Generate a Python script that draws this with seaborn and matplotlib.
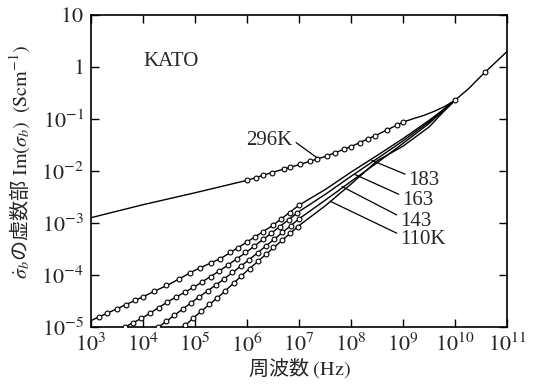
import numpy as np
import pandas as pd
import matplotlib
matplotlib.use("Agg")
import matplotlib.pyplot as plt
import seaborn as sns
from matplotlib.ticker import FixedLocator, NullLocator

# ---------------- data ----------------
# smooth (theory) curves
f_296 = [1e3, 1e4, 1e5, 1e6, 3.2e6, 1e7, 3.2e7, 1e8, 3.2e8, 1e9, 1.6e9, 2.5e9, 4e9, 6.3e9,
         1e10, 1.8e10, 3.2e10, 1e11]
s_296 = [1.26e-3, 2.24e-3, 3.8e-3, 6.6e-3, 9.5e-3, 1.32e-2, 1.9e-2, 2.95e-2, 5.0e-2, 8.7e-2,
         0.102, 0.117, 0.141, 0.174, 0.23, 0.38, 0.68, 2.0]

f_183 = [1e3, 3.2e3, 1e4, 3.2e4, 1e5, 3.2e5, 1e6, 3.2e6, 1e7, 3.2e7, 1e8, 3.2e8, 1e9, 3.2e9,
         5.6e9, 1e10]
s_183 = [1.32e-5, 2.24e-5, 3.8e-5, 6.6e-5, 1.23e-4, 2.1e-4, 4.3e-4, 9.1e-4, 2.2e-3, 4.4e-3,
         9.5e-3, 2.0e-2, 4.2e-2, 9.5e-2, 0.145, 0.23]

f_163 = [3.2e3, 1e4, 3.2e4, 1e5, 3.2e5, 1e6, 3.2e6, 1e7, 3.2e7, 1e8, 3.2e8, 1e9, 3.2e9,
         5.6e9, 1e10]
s_163 = [8.3e-6, 1.51e-5, 3.16e-5, 6.0e-5, 1.26e-4, 2.8e-4, 6.8e-4, 1.66e-3, 3.55e-3, 7.9e-3,
         1.74e-2, 3.8e-2, 8.9e-2, 0.141, 0.23]

f_143 = [1e4, 3.2e4, 1e5, 3.2e5, 1e6, 3.2e6, 1e7, 3.2e7, 1e8, 3.2e8, 1e9, 3.2e9, 5.6e9, 1e10]
s_143 = [5.9e-6, 1.41e-5, 3.3e-5, 7.6e-5, 1.82e-4, 4.7e-4, 1.2e-3, 2.75e-3, 6.3e-3, 1.45e-2,
         3.4e-2, 8.3e-2, 0.138, 0.23]

f_110 = [3.2e4, 1e5, 3.2e5, 1e6, 3.2e6, 1e7, 3.2e7, 1e8, 3.2e8, 1e9, 3.2e9, 5.6e9, 1e10]
s_110 = [5.6e-6, 1.58e-5, 4.2e-5, 1.2e-4, 3.3e-4, 8.9e-4, 2.14e-3, 5.6e-3, 1.58e-2, 3.0e-2,
         7.1e-2, 0.129, 0.23]

# measured points (open circles)
mf_296 = [9.8e5, 1.5e6, 2.0e6, 3.0e6, 5.2e6, 6.8e6, 1.05e7, 1.6e7, 2.2e7, 3.4e7, 4.9e7, 7.4e7,
          1.0e8, 1.5e8, 2.1e8, 2.9e8, 4.9e8, 7.6e8, 1.0e9, 1.0e10, 3.8e10]
ms_296 = [6.6e-3, 7.4e-3, 8.3e-3, 9.3e-3, 1.1e-2, 1.18e-2, 1.35e-2, 1.55e-2, 1.7e-2, 1.95e-2,
          2.25e-2, 2.6e-2, 2.95e-2, 3.5e-2, 4.2e-2, 4.8e-2, 6.2e-2, 7.6e-2, 8.7e-2, 0.23, 0.79]

mf_183 = [1.4e3, 2.0e3, 3.2e3, 4.8e3, 7.1e3, 1.0e4, 1.6e4, 2.8e4, 5.0e4, 7.9e4, 1.26e5, 2.0e5,
          3.0e5, 4.7e5, 6.8e5, 1.0e6, 1.4e6, 2.0e6, 3.2e6, 4.5e6, 6.6e6, 1.0e7]
ms_183 = [1.55e-5, 1.82e-5, 2.24e-5, 2.69e-5, 3.24e-5, 3.8e-5, 4.8e-5, 6.3e-5, 8.5e-5, 1.1e-4,
          1.38e-4, 1.7e-4, 2.04e-4, 2.7e-4, 3.3e-4, 4.3e-4, 5.4e-4, 6.8e-4, 9.1e-4, 1.17e-3,
          1.58e-3, 2.2e-3]

mf_163 = [4.5e3, 6.3e3, 9.3e3, 1.35e4, 2.0e4, 2.95e4, 4.3e4, 6.3e4, 9.3e4, 1.35e5, 2.0e5,
          2.95e5, 4.3e5, 6.3e5, 9.3e5, 1.35e6, 2.0e6, 2.95e6, 4.3e6, 6.3e6, 9.3e6]
ms_163 = [1.0e-5, 1.2e-5, 1.46e-5, 1.82e-5, 2.34e-5, 3.0e-5, 3.7e-5, 4.7e-5, 5.75e-5, 7.2e-5,
          9.3e-5, 1.2e-4, 1.55e-4, 2.04e-4, 2.7e-4, 3.55e-4, 4.8e-4, 6.5e-4, 8.5e-4, 1.15e-3,
          1.58e-3]

mf_143 = [1.95e4, 2.8e4, 4.0e4, 5.75e4, 8.3e4, 1.2e5, 1.74e5, 2.5e5, 3.6e5, 5.25e5, 7.6e5,
          1.1e6, 1.6e6, 2.3e6, 3.3e6, 4.8e6, 6.9e6, 1.0e7]
ms_143 = [9.8e-6, 1.29e-5, 1.66e-5, 2.19e-5, 2.88e-5, 3.8e-5, 4.9e-5, 6.5e-5, 8.5e-5, 1.12e-4,
          1.48e-4, 1.95e-4, 2.63e-4, 3.6e-4, 4.9e-4, 6.6e-4, 8.9e-4, 1.2e-3]

mf_110 = [6.5e4, 9.1e4, 1.32e5, 1.86e5, 2.7e5, 3.8e5, 5.5e5, 7.8e5, 1.12e6, 1.6e6, 2.3e6,
          3.2e6, 4.7e6, 6.6e6, 9.5e6]
ms_110 = [1.07e-5, 1.45e-5, 2.0e-5, 2.7e-5, 3.6e-5, 4.9e-5, 6.9e-5, 9.5e-5, 1.32e-4, 1.82e-4,
          2.5e-4, 3.4e-4, 4.7e-4, 6.3e-4, 8.5e-4]

x_ticks = [1e3, 1e4, 1e5, 1e6, 1e7, 1e8, 1e9, 1e10, 1e11]
x_ticklabels = ["$10^{3}$", "$10^{4}$", "$10^{5}$", "$10^{6}$", "$10^{7}$", "$10^{8}$",
                "$10^{9}$", "$10^{10}$", "$10^{11}$"]
y_ticks = [1e-5, 1e-4, 1e-3, 1e-2, 1e-1, 1, 10]
y_ticklabels = ["$10^{-5}$", "$10^{-4}$", "$10^{-3}$", "$10^{-2}$", "$10^{-1}$", "$1$", "$10$"]

# ---------------- style ----------------
sns.set_style("ticks")
plt.rcParams["font.family"] = ["Liberation Serif", "Noto Sans CJK JP", "DejaVu Sans"]
plt.rcParams["mathtext.fontset"] = "stix"

fig = plt.figure(figsize=(5.35, 3.85), dpi=100)
ax = fig.add_axes([0.170, 0.151, 0.778, 0.810])
ax.set_xscale("log")
ax.set_yscale("log")

lines = [(f_296, s_296), (f_183, s_183), (f_163, s_163), (f_143, s_143), (f_110, s_110)]
for f, s in lines:
    sns.lineplot(x=f, y=s, ax=ax, color="black", linewidth=1.0, sort=True, estimator=None)

marks = [(mf_296, ms_296), (mf_183, ms_183), (mf_163, ms_163), (mf_143, ms_143), (mf_110, ms_110)]
for f, s in marks:
    sns.scatterplot(x=f, y=s, ax=ax, marker="o", s=12, color="white", edgecolor="black",
                    linewidth=0.8, zorder=3)

ax.set_xlim(1e3, 1e11)
ax.set_ylim(1e-5, 10)
ax.xaxis.set_major_locator(FixedLocator(x_ticks))
ax.xaxis.set_minor_locator(NullLocator())
ax.yaxis.set_major_locator(FixedLocator(y_ticks))
ax.yaxis.set_minor_locator(NullLocator())
ax.set_xticklabels(x_ticklabels)
ax.set_yticklabels(y_ticklabels)
ax.tick_params(which="major", direction="in", length=6, width=1.0, top=True, right=True,
               labelsize=16, pad=5, color="black")
for sp in ax.spines.values():
    sp.set_linewidth(1.2)
    sp.set_color("black")

ax.set_xlabel(r"周波数 $(\mathrm{Hz})$", fontsize=14.5, family="Noto Sans CJK JP")
ax.xaxis.set_label_coords(0.50, -0.095)
ax.set_ylabel(r"$\dot{\sigma}_b$の虚数部 $\mathrm{Im}(\sigma_b)$  $(\mathrm{Scm}^{-1})$",
              fontsize=14.5, family="Noto Sans CJK JP")
ax.yaxis.set_label_coords(-0.142, 0.53)

ax.text(1e4, 1.26, "KATO", fontsize=15, ha="left", va="center")

lead = dict(arrowstyle="-", color="black", lw=0.9, shrinkA=0, shrinkB=0)
ax.annotate("296K", xy=(2.2e7, 1.8e-2), xytext=(7.6e6, 3.9e-2), fontsize=15,
            ha="right", va="center", arrowprops=dict(lead, relpos=(1.0, 0.5)))
ax.annotate("183", xy=(2.5e8, 1.6e-2), xytext=(1.26e9, 6.6e-3), fontsize=15,
            ha="left", va="center", arrowprops=dict(lead, relpos=(0.0, 0.75)))
ax.annotate("163", xy=(1.2e8, 8.5e-3), xytext=(9.5e8, 2.7e-3), fontsize=15,
            ha="left", va="center", arrowprops=dict(lead, relpos=(0.0, 0.75)))
ax.annotate("143", xy=(6.7e7, 5.0e-3), xytext=(8.7e8, 1.07e-3), fontsize=15,
            ha="left", va="center", arrowprops=dict(lead, relpos=(0.0, 0.75)))
ax.annotate("110K", xy=(4.0e7, 2.6e-3), xytext=(8.7e8, 4.8e-4), fontsize=15,
            ha="left", va="center", arrowprops=dict(lead, relpos=(0.0, 0.75)))

fig.savefig("out.png", dpi=100)
